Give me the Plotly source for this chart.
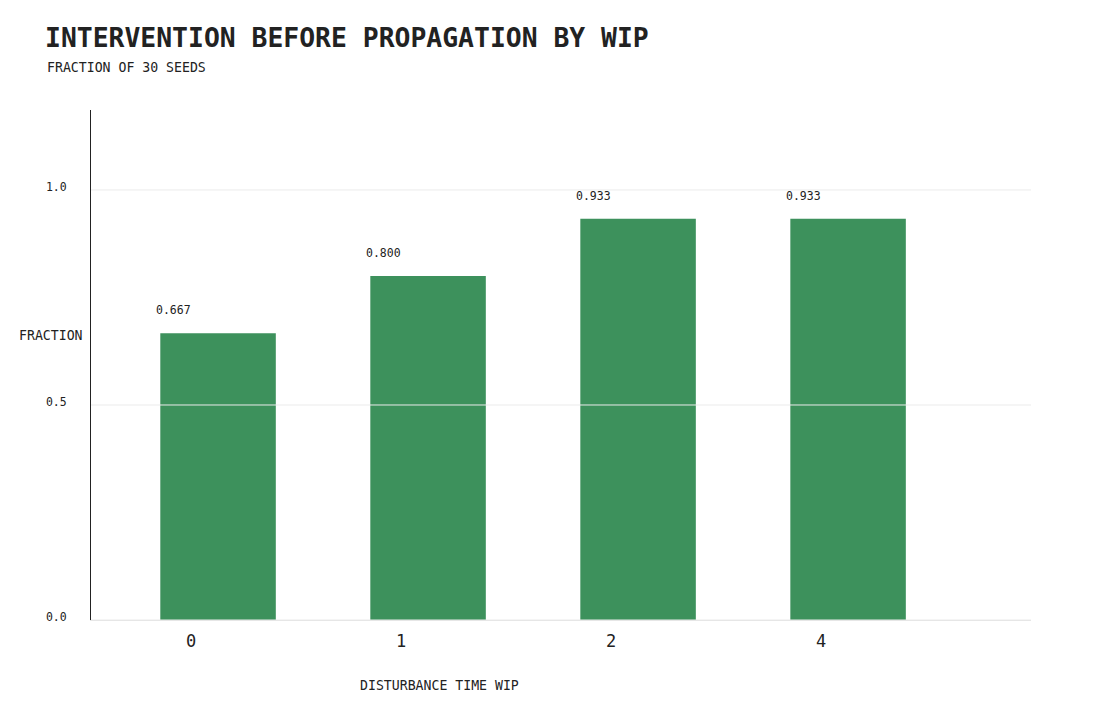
import plotly.graph_objects as go

categories = ["0", "1", "2", "4"]
fractions = [0.667, 0.800, 0.933, 0.933]
value_labels = ["0.667", "0.800", "0.933", "0.933"]
y_ticks = [0.0, 0.5, 1.0]
y_tick_labels = ["0.0", "0.5", "1.0"]

FONT = "DejaVu Sans Mono"
INK = "#222222"
BAR = "#3d915c"

W, H = 1092, 712
L, T, PW, PH = 83, 102, 940, 510

fig = go.Figure()
fig.add_trace(go.Bar(
    x=categories, y=fractions, marker_color=BAR, marker_line_width=0,
    width=0.55, hoverinfo="skip", showlegend=False,
))

for i, (v, t) in enumerate(zip(fractions, value_labels)):
    fig.add_annotation(x=i, y=v, text=t, showarrow=False, xshift=-45, yshift=23,
                       font=dict(family=FONT, size=11.5, color=INK), yanchor="middle")

for yv in y_ticks:
    fig.add_shape(type="line", xref="paper", x0=0, x1=1, yref="y", y0=yv, y1=yv,
                  line=dict(color="#ebebeb", width=1), layer="above")

fig.update_layout(
    width=W, height=H,
    paper_bgcolor="white", plot_bgcolor="white",
    margin=dict(l=L, r=W - L - PW, t=T, b=H - T - PH),
    title=dict(text="<b>INTERVENTION BEFORE PROPAGATION BY WIP</b>",
               x=0, xref="container", xanchor="left", y=1 - 30 / H, yanchor="middle",
               pad=dict(l=37),
               font=dict(family=FONT, size=26.4, color=INK)),
)

def px_x(x):
    return (x - 8 - L) / PW

def px_y(y):
    return (T + PH - (y - 8)) / PH

fig.add_annotation(text="FRACTION OF 30 SEEDS", xref="paper", yref="paper",
                   x=px_x(45), y=px_y(67), xanchor="left", yanchor="middle",
                   showarrow=False, font=dict(family=FONT, size=13.2, color=INK))
fig.add_annotation(text="FRACTION", xref="paper", yref="paper",
                   x=px_x(17), y=px_y(335), xanchor="left", yanchor="middle",
                   showarrow=False, font=dict(family=FONT, size=13.2, color=INK))
fig.add_annotation(text="DISTURBANCE TIME WIP", xref="paper", yref="paper",
                   x=px_x(439), y=px_y(685), xanchor="center", yanchor="middle",
                   showarrow=False, font=dict(family=FONT, size=13.2, color=INK))

fig.update_xaxes(type="category", range=[-0.605, 3.871], showgrid=False,
                 showline=True, linecolor="#e6e6e6", linewidth=1,
                 ticks="", ticklabelshift=-27, ticklabelstandoff=6,
                 tickfont=dict(family=FONT, size=17, color=INK), zeroline=False)
fig.update_yaxes(range=[0, 1.186], tickvals=y_ticks, ticktext=y_tick_labels,
                 showgrid=False, zeroline=False, showline=True, linecolor=INK, linewidth=1,
                 ticks="", ticklabelstandoff=21, ticklabelshift=-3,
                 tickfont=dict(family=FONT, size=11.5, color=INK))

fig.write_html("out.html")
